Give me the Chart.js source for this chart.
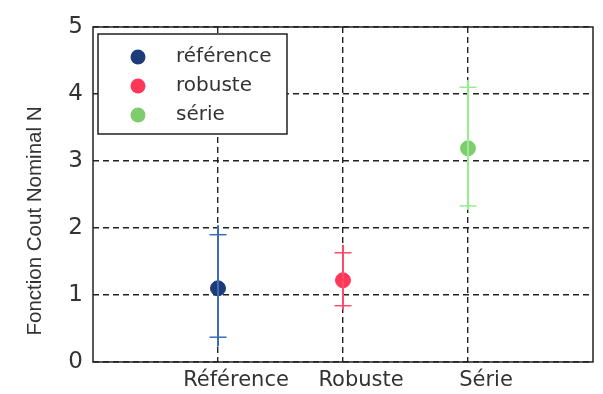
<!DOCTYPE html>
<html>
<head>
<meta charset="utf-8">
<script src="https://cdn.jsdelivr.net/npm/chart.js@4"></script>
<style>
  html, body { margin: 0; padding: 0; background: #fff; }
  #wrap { width: 603px; height: 394px; }
</style>
</head>
<body>
<div id="wrap"><canvas id="chart" width="603" height="394"></canvas></div>
<script>
// Données
const categories = ['Référence', 'Robuste', 'Série'];
const legendNames = ['référence', 'robuste', 'série'];
const positions = [1, 2, 3];
const means = [1.10, 1.22, 3.19];
const capLow = [0.37, 0.84, 2.33];
const capHigh = [1.90, 1.63, 4.10];
const lineLow = [0.23, 0.78, 2.27];
const lineHigh = [2.04, 1.75, 4.21];
const yTicks = [0, 1, 2, 3, 4, 5];
const yLabel = 'Fonction Cout Nominal N';

const lineColors = ['#3a6db3', '#ff4a6a', '#98ec90'];
const markerColors = ['#1d3b78', '#ff3858', '#80cc6c'];

const datasets = [];
positions.forEach((p, i) => {
    // trait vertical
    datasets.push({
        type: 'line',
        data: [{ x: p, y: lineLow[i] }, { x: p, y: lineHigh[i] }],
        borderColor: lineColors[i],
        borderWidth: 2,
        pointRadius: 0,
        fill: false
    });
    // barres horizontales (écart)
    datasets.push({
        type: 'scatter',
        data: [{ x: p, y: capLow[i] }, { x: p, y: capHigh[i] }],
        pointStyle: 'line',
        pointRadius: 8.5,
        borderColor: lineColors[i],
        borderWidth: 1.5
    });
    // moyenne
    datasets.push({
        type: 'scatter',
        data: [{ x: p, y: means[i] }],
        pointStyle: 'circle',
        pointRadius: 7.5,
        backgroundColor: markerColors[i],
        borderColor: markerColors[i],
        borderWidth: 1
    });
});

// cadre + légende + titre Y façon Matlab
const framePlugin = {
    id: 'frame',
    afterDraw(chart) {
        const ctx = chart.ctx;
        const a = chart.chartArea;
        ctx.save();
        ctx.strokeStyle = '#222';
        ctx.lineWidth = 1.5;
        ctx.setLineDash([]);
        ctx.strokeRect(a.left, a.top, a.right - a.left, a.bottom - a.top);

        // légende
        const lx = a.left + 5, ly = a.top + 7, lw = 189, lh = 100;
        ctx.fillStyle = '#fff';
        ctx.fillRect(lx, ly, lw, lh);
        ctx.strokeRect(lx, ly, lw, lh);
        ctx.font = '20px "DejaVu Sans"';
        ctx.textBaseline = 'middle';
        legendNames.forEach((name, i) => {
            const cy = ly + 23 + i * 29;
            ctx.beginPath();
            ctx.arc(lx + 40, cy, 7.5, 0, Math.PI * 2);
            ctx.fillStyle = markerColors[i];
            ctx.fill();
            ctx.fillStyle = '#333';
            ctx.fillText(name, lx + 78, cy);
        });

        // titre axe Y
        ctx.translate(35, 221);
        ctx.rotate(-Math.PI / 2);
        ctx.textAlign = 'center';
        ctx.font = '20.5px "Liberation Sans"';
        ctx.fillStyle = '#333';
        ctx.fillText(yLabel, 0, 0);
        ctx.restore();
    }
};

const ctx = document.getElementById('chart').getContext('2d');
new Chart(ctx, {
    data: { datasets: datasets },
    options: {
        responsive: false,
        animation: false,
        layout: { padding: { left: 0, top: 27, right: 7, bottom: 0 } },
        plugins: { legend: { display: false }, tooltip: { enabled: false } },
        scales: {
            x: {
                type: 'linear',
                min: 0,
                max: 4,
                afterBuildTicks: (scale) => { scale.ticks = positions.map(v => ({ value: v })); },
                afterFit: (scale) => { scale.height = 32; },
                ticks: {
                    callback: (v) => categories[positions.indexOf(v)],
                    font: { family: 'DejaVu Sans', size: 21 },
                    color: '#333',
                    padding: 6,
                    labelOffset: 18,
                    maxRotation: 0
                },
                grid: { color: '#222', lineWidth: 1.4, drawTicks: false },
                border: { display: false, dash: [6, 4] }
            },
            y: {
                min: 0,
                max: 5,
                afterBuildTicks: (scale) => { scale.ticks = yTicks.map(v => ({ value: v })); },
                afterFit: (scale) => { scale.width = 93; },
                ticks: {
                    font: { family: 'DejaVu Sans', size: 23 },
                    color: '#333',
                    padding: 10
                },
                grid: { color: '#222', lineWidth: 1.4, drawTicks: false },
                border: { display: false, dash: [6, 4] }
            }
        }
    },
    plugins: [framePlugin]
});
</script>
</body>
</html>
